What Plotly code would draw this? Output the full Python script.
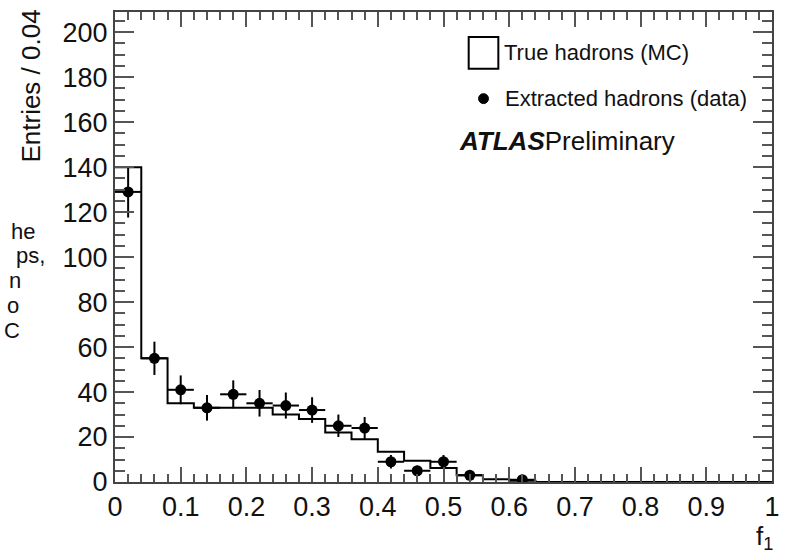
import plotly.graph_objects as go

# ---- data ----
bin_edges = [round(i * 0.04, 2) for i in range(26)]
mc_values = [140, 55, 35, 33, 33, 33, 30, 28, 22, 19, 13.4, 9.4, 6.2, 3.0,
             1.2, 0.6, 0, 0, 0, 0, 0, 0, 0, 0, 0]
data_x = [0.02, 0.06, 0.10, 0.14, 0.18, 0.22, 0.26, 0.30, 0.34, 0.38,
          0.42, 0.46, 0.50, 0.54, 0.62]
data_y = [129, 55, 41, 33, 39, 35, 34, 32, 25, 24, 9, 5, 9, 3, 1]
data_err = [11.4, 7.4, 6.4, 5.7, 6.2, 5.9, 5.8, 5.7, 5.0, 4.9, 3.0, 2.2, 3.0, 1.7, 1.0]
data_xerr = [0.02] * len(data_x)
left_fragments = ["he", "ps,", "n", "o", "C"]

FONT = "Liberation Sans, Arial, Helvetica, sans-serif"

fig = go.Figure()
# MC histogram as step line
fig.add_trace(go.Scatter(
    x=bin_edges, y=mc_values + [mc_values[-1]],
    mode="lines", line=dict(color="black", width=2, shape="hv"),
    showlegend=False, hoverinfo="skip"))
# data points
fig.add_trace(go.Scatter(
    x=data_x, y=data_y, mode="markers",
    marker=dict(color="black", size=11, symbol="circle"),
    error_y=dict(type="data", array=data_err, color="black", thickness=2, width=0),
    error_x=dict(type="data", array=data_xerr, color="black", thickness=2, width=0),
    showlegend=False))

L, R, T, B = 115, 10, 10, 74
W, H = 790, 556
pw, ph = W - L - R, H - T - B

def px(x):
    return (x - L) / pw

def py(y):
    return (H - B - y) / ph

axis_common = dict(showline=True, linecolor="#444", linewidth=2, mirror="ticks",
                   ticks="inside", tickcolor="#555", tickwidth=2,
                   showgrid=False, zeroline=False,
                   tickfont=dict(family=FONT, size=27, color="#111"))

fig.update_xaxes(range=[0, 1], dtick=0.1, tick0=0, ticklen=15,
                 minor=dict(dtick=0.02, ticklen=8, ticks="inside", tickcolor="#555", tickwidth=2),
                 **axis_common)
fig.update_yaxes(range=[0, 209], dtick=20, tick0=0, ticklen=19,
                 minor=dict(dtick=5, ticklen=10, ticks="inside", tickcolor="#555", tickwidth=2),
                 **axis_common)

ann = []
# y title
ann.append(dict(text="Entries / 0.04", xref="paper", yref="paper", x=px(29), y=py(6),
                xanchor="center", yanchor="top", textangle=-90, showarrow=False,
                font=dict(family=FONT, size=26, color="#111")))
# x title
ann.append(dict(text="f<sub>1</sub>", xref="paper", yref="paper", x=px(783), y=py(538),
                xanchor="right", yanchor="middle", showarrow=False,
                font=dict(family=FONT, size=26, color="#111")))
# legend texts
ann.append(dict(text="True hadrons (MC)", xref="paper", yref="paper", x=px(507), y=py(51),
                xanchor="left", yanchor="middle", showarrow=False,
                font=dict(family=FONT, size=22, color="#111")))
ann.append(dict(text="Extracted hadrons (data)", xref="paper", yref="paper", x=px(508), y=py(97),
                xanchor="left", yanchor="middle", showarrow=False,
                font=dict(family=FONT, size=22, color="#111")))
ann.append(dict(text="<b><i>ATLAS</i></b>Preliminary", xref="paper", yref="paper",
                x=px(461), y=py(140), xanchor="left", yanchor="middle", showarrow=False,
                font=dict(family=FONT, size=26, color="#111")))
# clipped slide text at the left
frag_right = [35, 45, 21, 19, 20]
frag_y = [230, 255, 280, 305, 330]
for t, xr, yc in zip(left_fragments, frag_right, frag_y):
    ann.append(dict(text=t, xref="paper", yref="paper", x=px(xr), y=py(yc),
                    xanchor="right", yanchor="middle", showarrow=False, borderpad=0,
                    font=dict(family=FONT, size=22, color="#111")))

shapes = [
    dict(type="rect", xref="paper", yref="paper", x0=px(473), x1=px(503), y0=py(67), y1=py(35),
         line=dict(color="black", width=2), fillcolor="white"),
    dict(type="circle", xref="paper", yref="paper", x0=px(483), x1=px(493), y0=py(102), y1=py(92),
         line=dict(color="black", width=1), fillcolor="black"),
]

fig.update_layout(width=W, height=H, margin=dict(l=L, r=R, t=T, b=B),
                  paper_bgcolor="white", plot_bgcolor="white",
                  annotations=ann, shapes=shapes, showlegend=False)

fig.write_html("out.html")
